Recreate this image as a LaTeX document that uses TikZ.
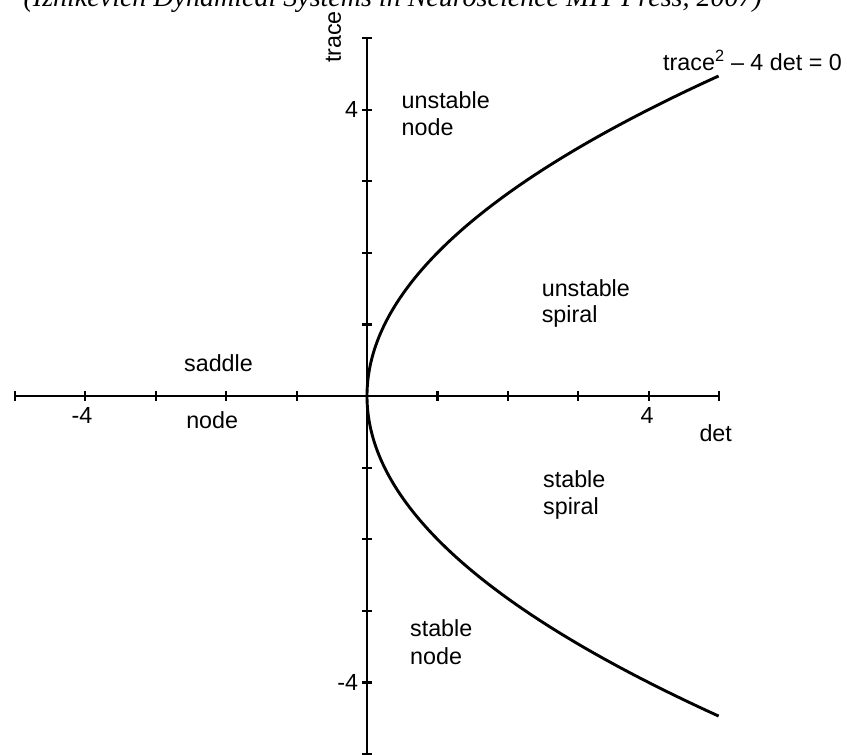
\documentclass[tikz,border=0pt]{standalone}
\usepackage{fontspec}
\setmainfont{Liberation Sans}
\newfontfamily\citefont{Liberation Serif}
\begin{document}
\begin{tikzpicture}[x=70.4bp,y=71.6bp,
  lbl/.style={inner sep=0pt, anchor=base west, font=\fontsize{23.3bp}{27bp}\selectfont},
  numlbl/.style={inner sep=0pt, font=\fontsize{23.3bp}{27bp}\selectfont},
  axisline/.style={line width=2.5bp},
  tickmark/.style={line width=2.2bp},
  curveline/.style={line width=2.9bp}]
\useasboundingbox (-5.213,-5.0) rectangle (6.818,5.531);
\clip (-5.213,-5.0) rectangle (6.818,5.531);
% citation line (cut off at top, as in the reference)
\node[anchor=base east, inner sep=0pt, font=\citefont\itshape\fontsize{28bp}{30bp}\selectfont] (cite) at (5.611,5.44) {(Izhikevich Dynamical Systems in Neuroscience MIT Press, 2007)};
% axes
\coordinate (xl) at (-5,0);
\coordinate (xr) at (5,0);
\coordinate (yb) at (0,-5.1);
\coordinate (yt) at (0,5);
\draw[axisline] (xl) -- (xr);
\draw[axisline] (yb) -- (yt);
\foreach \i in {-5,-4,-3,-2,-1,1,2,3,4,5} {
  \draw[tickmark] (\i,-0.068) -- (\i,0.068);
  \draw[tickmark] (-0.068,\i) -- (0.068,\i);
}
% parabola trace^2 = 4 det
\draw[curveline] plot[domain=-4.47:4.47, samples=120, smooth] ({\x*\x/4},\x);
% axis labels
\node[numlbl, rotate=90] (trlab) at (-0.477,5.014) {trace};
\node[numlbl, anchor=base west] (detlab) at (4.72,-0.638) {det};
\node[numlbl, anchor=east] (y4) at (-0.125,4) {4};
\node[numlbl, anchor=east] (ym4) at (-0.125,-4) {-4};
\node[numlbl, anchor=base] (x4) at (3.98,-0.39) {4};
\node[numlbl, anchor=base] (xm4) at (-4.05,-0.39) {-4};
\node[lbl] (eqn) at (4.205,4.553) {trace\textsuperscript{2} – 4 det = 0};
% region labels
\node[lbl] (un1) at (0.49,4.022) {unstable};
\node[lbl] (un2) at (0.49,3.645) {node};
\node[lbl] (us1) at (2.48,1.387) {unstable};
\node[lbl] (us2) at (2.48,1.02) {spiral};
\node[lbl] (sd1) at (-2.60,0.339) {saddle};
\node[lbl] (sd2) at (-2.57,-0.447) {node};
\node[lbl] (ss1) at (2.50,-1.281) {stable};
\node[lbl] (ss2) at (2.50,-1.648) {spiral};
\node[lbl] (sn1) at (0.61,-3.352) {stable};
\node[lbl] (sn2) at (0.61,-3.743) {node};
\end{tikzpicture}
\end{document}
